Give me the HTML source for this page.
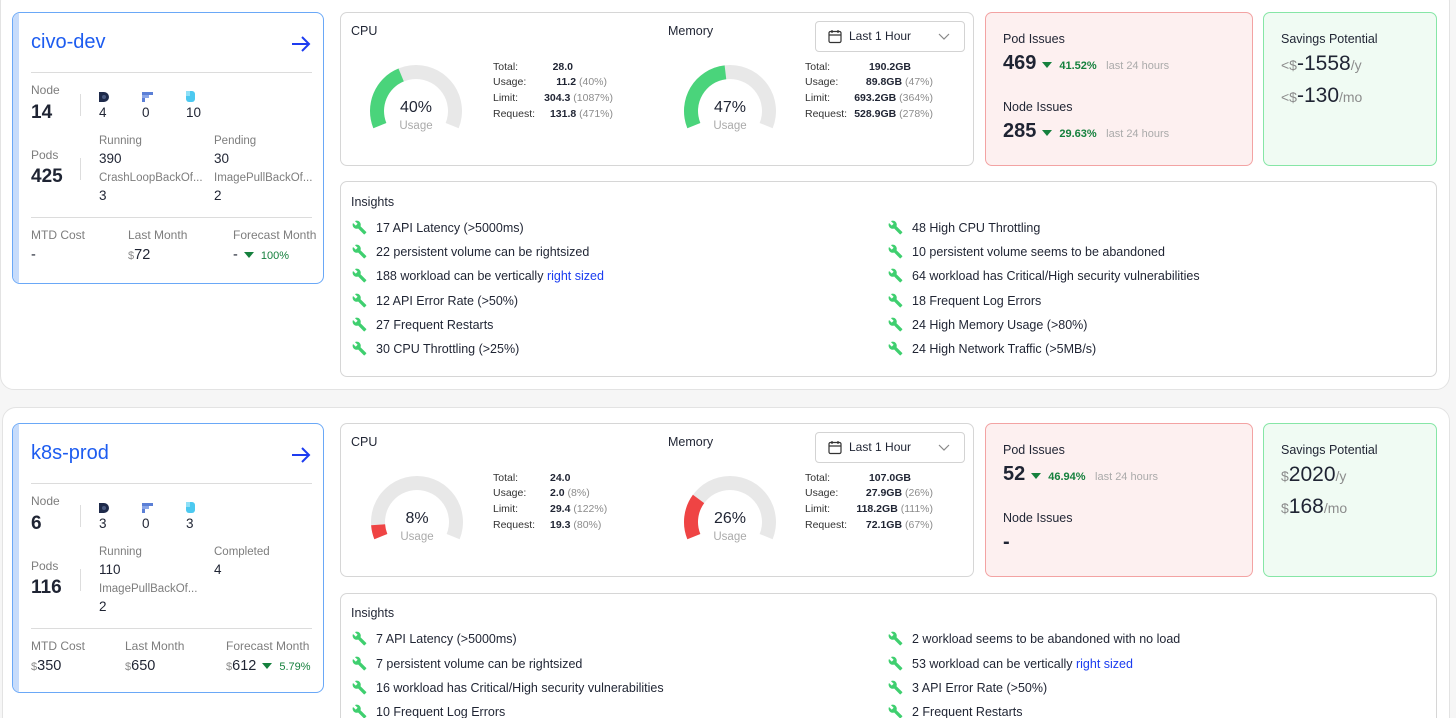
<!DOCTYPE html>
<html style="width:1456px;height:718px;overflow:hidden"><head><meta charset="utf-8">
<style>
*{box-sizing:border-box;margin:0;padding:0}
body{width:1456px;height:718px;overflow:hidden;background:#f6f6f6;font-family:"Liberation Sans",Arial,sans-serif;color:#1f2433;position:relative}
#wrap{position:absolute;left:0;top:0;width:1456px;height:718px;overflow:hidden}
.abs{position:absolute}
.sec{position:absolute;background:#fff;border:1px solid #e3e3e3;border-radius:14px}
.card{position:absolute;border:1px solid #d6d6d6;border-radius:7px;background:#fff}
.t{position:absolute;white-space:nowrap;line-height:20px}
.g{color:#8c8c8c}
.lbl{font-size:12px;color:#7d7d7d}
.big{font-size:19px;font-weight:bold;color:#1f2433}
.val{font-size:13.5px}
.green{color:#15803d}
</style></head><body>
<div id="wrap">
<div id="root"></div>
<svg id="gsvg" class="abs" style="left:0;top:0" width="1456" height="718"></svg>
</div>
<script>
// ---- gauge data ----
const gaugeLabels = ["cpu-1","memory-1","cpu-2","memory-2"];
const gaugeValues = [40, 47, 8, 26];
const gaugeColors = ["#4ad47b","#4ad47b","#ef4444","#ef4444"];

const root = document.getElementById('root');
let html = '';
function t(x, yc, text, cls, style, name, inter){
  return `<div class="t ${cls||''}" style="left:${x}px;top:${yc-10}px;${style||''}">${text}</div>`;
}
function tr(xr, yc, text, style, name){
  return `<div class="t" style="left:${xr-300}px;width:300px;text-align:right;top:${yc-10}px;${style||''}">${text}</div>`;
}
const wrench = `<svg width="15" height="15" viewBox="0 0 24 24"><path fill="#3fcf6f" d="M22.7 19l-9.1-9.1c.9-2.3.4-5-1.5-6.9-2-2-5-2.4-7.4-1.3L9 6 6 9 1.6 4.7C.4 7.1.9 10.1 2.9 12.1c1.9 1.9 4.6 2.4 6.9 1.5l9.1 9.1c.4.4 1 .4 1.4 0l2.3-2.3c.5-.4.5-1.1.1-1.4z"/></svg>`;
const tri = `<span style="display:inline-block;width:0;height:0;border-left:5px solid transparent;border-right:5px solid transparent;border-top:6px solid #15803d;vertical-align:middle;margin:0 7px 0 6px"></span>`;

const sections = [
 {dy:0, name:'civo-dev', node:'14', counts:['4','0','10'], pods:'425',
  statuses:[['Running','390'],['Pending','30'],['CrashLoopBackOf...','3'],['ImagePullBackOf...','2']],
  costs:[[31,'MTD Cost','-'],[128,'Last Month','<span class="g" style="font-size:11px">$</span>72'],[233,'Forecast Month','-'+tri+'<span class="green" style="font-size:11px">100%</span>']],
  cpu:[['Total:','28.0','',573],['Usage:','11.2','(40%)',607],['Limit:','304.3','(1087%)',613],['Request:','131.8','(471%)',613]], cpuLeft:false,
  mem:[['Total:','190.2GB','',911],['Usage:','89.8GB','(47%)',933],['Limit:','693.2GB','(364%)',933],['Request:','528.9GB','(278%)',933]],
  pod:['469','41.52%'], nodeI:['285','29.63%'], sav:['<span class="g" style="font-size:14px">&lt;$</span>-1558','<span class="g" style="font-size:14px">&lt;$</span>-130'],
  left:['17 API Latency (&gt;5000ms)','22 persistent volume can be rightsized','188 workload can be vertically <span style="color:#1a3cf0">right sized</span>','12 API Error Rate (&gt;50%)','27 Frequent Restarts','30 CPU Throttling (&gt;25%)'],
  right:['48 High CPU Throttling','10 persistent volume seems to be abandoned','64 workload has Critical/High security vulnerabilities','18 Frequent Log Errors','24 High Memory Usage (&gt;80%)','24 High Network Traffic (&gt;5MB/s)'],
  ins:[228,252,276,301,325,349], insTop:181, insH:196, cardH:272},
 {dy:411, name:'k8s-prod', node:'6', counts:['3','0','3'], pods:'116',
  statuses:[['Running','110'],['Completed','4'],['ImagePullBackOf...','2']],
  costs:[[31,'MTD Cost','<span class="g" style="font-size:11px">$</span>350'],[125,'Last Month','<span class="g" style="font-size:11px">$</span>650'],[226,'Forecast Month','<span class="g" style="font-size:11px">$</span>612'+tri+'<span class="green" style="font-size:11px">5.79%</span>']],
  cpu:[['Total:','24.0','',550],['Usage:','2.0','(8%)',550],['Limit:','29.4','(122%)',550],['Request:','19.3','(80%)',550]], cpuLeft:true,
  mem:[['Total:','107.0GB','',911],['Usage:','27.9GB','(26%)',933],['Limit:','118.2GB','(111%)',933],['Request:','72.1GB','(67%)',933]],
  pod:['52','46.94%'], nodeI:null, sav:['<span class="g" style="font-size:14px">$</span>2020','<span class="g" style="font-size:14px">$</span>168'],
  left:['7 API Latency (&gt;5000ms)','7 persistent volume can be rightsized','16 workload has Critical/High security vulnerabilities','10 Frequent Log Errors'],
  right:['2 workload seems to be abandoned with no load','53 workload can be vertically <span style="color:#1a3cf0">right sized</span>','3 API Error Rate (&gt;50%)','2 Frequent Restarts'],
  ins:[228,253,277,301], insTop:182, insH:140, cardH:270}
];

html += `<div class="sec" style="left:0;top:-12px;width:1450px;height:402px"></div>`;
html += `<div class="sec" style="left:2px;top:407px;width:1448px;height:330px"></div>`;

sections.forEach((s,si)=>{
  const d=s.dy;
  html += `<div class="card" style="left:12px;top:${12+d}px;width:312px;height:${s.cardH}px;border:1.5px solid #6aa8f7;border-radius:8px;overflow:hidden"><div class="abs" style="left:0;top:0;width:6px;height:100%;background:#c7dcfb"></div></div>`;
  html += t(31,42+d,s.name,'','font-size:20px;color:#1d5cf0','cluster-name',true);
  html += `<div class="abs" style="left:290px;top:${34+d}px"><svg width="22" height="20" viewBox="0 0 22 20"><path d="M2 10H19M12 3l7 7-7 7" stroke="#1d3cf0" stroke-width="2" fill="none"/></svg></div>`;
  html += `<div class="abs" style="left:31px;top:${72+d}px;width:281px;height:1px;background:#dcdcdc"></div>`;
  html += `<div class="abs" style="left:31px;top:${217+d}px;width:281px;height:1px;background:#dcdcdc"></div>`;
  html += t(31,90+d,'Node','lbl','','node-label');
  html += t(31,113+d,s.node,'big','','node-count');
  html += `<div class="abs" style="left:80px;top:${94+d}px;width:1px;height:22px;background:#ddd"></div>`;
  const icons=[`<svg width="10" height="10"><path d="M0 0h5a5 5 0 0 1 0 10H0z" fill="#1e2a4a"/><circle cx="5" cy="5" r="2" fill="#4a5a80"/></svg>`,
   `<svg width="11" height="10"><rect x="0" y="0" width="11" height="3" fill="#5b7fd6"/><rect x="0" y="3" width="7" height="3" fill="#8aa6e8"/><rect x="0" y="6" width="3" height="4" fill="#5b7fd6"/></svg>`,
   `<svg width="9" height="11"><rect x="0" y="0" width="9" height="11" rx="3" fill="#4cc9f0"/><rect x="0" y="0" width="4" height="5" fill="#8fe0f7"/></svg>`];
  [99,142,186].forEach((x,i)=>{
    html += `<div class="abs" style="left:${x}px;top:${89+d}px">${icons[i]}</div>`;
    html += t(x,113+d,s.counts[i],'val','','node-type-count');
  });
  html += t(31,155+d,'Pods','lbl','','pods-label');
  html += t(31,177+d,s.pods,'big','','pods-count');
  html += `<div class="abs" style="left:80px;top:${158+d}px;width:1px;height:22px;background:#ddd"></div>`;
  s.statuses.forEach((st,i)=>{
    const x = i%2===0?99:214, r=Math.floor(i/2);
    html += t(x,141+r*37+d,st[0],'lbl','font-size:11.5px','pod-status-label');
    html += t(x,159+r*37+d,st[1],'val','','pod-status-count');
  });
  s.costs.forEach(c=>{
    html += t(c[0],235+d,c[1],'lbl','','cost-label');
    html += t(c[0],255+d,c[2],'val','font-size:14.5px','cost-value');
  });
  html += `<div class="card" style="left:340px;top:${12+d}px;width:634px;height:154px"></div>`;
  html += t(351,31+d,'CPU','','font-size:12.5px','cpu-title');
  html += t(668,31+d,'Memory','','font-size:12.5px','memory-title');
  html += `<div class="abs" style="left:815px;top:${21+d}px;width:150px;height:31px;border:1px solid #d3d3d3;border-radius:4px">
    <svg class="abs" style="left:12px;top:7px" width="14" height="15"><rect x="1" y="2.5" width="12" height="11" rx="1.5" fill="none" stroke="#333" stroke-width="1.2"/><path d="M1 6h12M4 1v3M10 1v3" stroke="#333" stroke-width="1.2"/></svg>
    <div class="t" style="left:33px;top:4px;font-size:12px">Last 1 Hour</div>
    <svg class="abs" style="left:122px;top:11px" width="12" height="8"><path d="M1 1l5 5 5-5" stroke="#888" fill="none" stroke-width="1.2"/></svg></div>`;
  const rowsY=[67,82,98,114];
  [[s.cpu,493,s.cpuLeft],[s.mem,805,false]].forEach(([rows,lx,leftAl])=>{
    rows.forEach((r,i)=>{
      html += t(lx,rowsY[i]+d,r[0],'','font-size:10.5px;color:#333','stat-label');
      const txt=`<b style="font-weight:bold;color:#1f2433">${r[1]}</b>${r[2]?' <span class="g">'+r[2]+'</span>':''}`;
      html += leftAl ? t(r[3],rowsY[i]+d,txt,'','font-size:10.5px','stat-value') : tr(r[3],rowsY[i]+d,txt,'font-size:10.5px','stat-value');
    });
  });
  html += `<div class="card" style="left:985px;top:${12+d}px;width:268px;height:154px;background:#fdf0f0;border-color:#f3a3a3"></div>`;
  html += t(1003,39+d,'Pod Issues','','font-size:12.5px','pod-issues-title');
  html += t(1003,63+d,`<span style="font-size:20px;font-weight:bold">${s.pod[0]}</span>${tri}<span class="green" style="font-size:11px;font-weight:bold">${s.pod[1]}</span> <span style="font-size:11px;margin-left:5px;color:#aaa">last 24 hours</span>`,'','','pod-issues-value');
  html += t(1003,107+d,'Node Issues','','font-size:12.5px','node-issues-title');
  if(s.nodeI) html += t(1003,131+d,`<span style="font-size:20px;font-weight:bold">${s.nodeI[0]}</span>${tri}<span class="green" style="font-size:11px;font-weight:bold">${s.nodeI[1]}</span> <span style="font-size:11px;margin-left:5px;color:#aaa">last 24 hours</span>`,'','','node-issues-value');
  else html += t(1003,131+d,'<span style="font-size:20px;font-weight:bold">-</span>','','','node-issues-value');
  html += `<div class="card" style="left:1263px;top:${12+d}px;width:174px;height:154px;background:#f0fbf3;border-color:#86e6a6"></div>`;
  html += t(1281,39+d,'Savings Potential','','font-size:12.5px','savings-title');
  html += t(1281,64+d,`${s.sav[0]}<span class="g" style="font-size:14px">/y</span>`,'','font-size:21px','savings-yearly');
  html += t(1281,96+d,`${s.sav[1]}<span class="g" style="font-size:14px">/mo</span>`,'','font-size:21px','savings-monthly');
  html += `<div class="card" style="left:340px;top:${s.insTop+d}px;width:1097px;height:${s.insH}px"></div>`;
  html += t(351,202+d,'Insights','','font-size:12.5px','insights-title');
  [[s.left,352],[s.right,888]].forEach(([items,x])=>{
    items.forEach((it,i)=>{
      const y=s.ins[i]+d;
      html += `<div class="abs" style="left:${x}px;top:${y-8}px">${wrench}</div>`;
      html += t(x+24,y,it,'','font-size:12.5px','insight-item',true);
    });
  });
});
root.innerHTML = html;

// ---- gauges ----
const gaugeCenters = [[416,111],[730,111],[417,522],[730,522]];
const svg = document.getElementById('gsvg');
const NS='http://www.w3.org/2000/svg';
const START=-112, SWEEP=224, RO=46, RI=32;
function pt(cx,cy,r,a){const rad=a*Math.PI/180;return [cx+r*Math.sin(rad), cy-r*Math.cos(rad)];}
function sector(cx,cy,a0,a1){
  const large=(a1-a0)>180?1:0;
  const p1=pt(cx,cy,RO,a0),p2=pt(cx,cy,RO,a1),p3=pt(cx,cy,RI,a1),p4=pt(cx,cy,RI,a0);
  return `M${p1} A${RO} ${RO} 0 ${large} 1 ${p2} L${p3} A${RI} ${RI} 0 ${large} 0 ${p4}Z`;
}
gaugeValues.forEach((v,i)=>{
  const [cx,cy]=gaugeCenters[i];
  const bg=document.createElementNS(NS,'path');
  bg.setAttribute('d',sector(cx,cy,START,START+SWEEP));
  bg.setAttribute('fill','#e8e8e8');
  
  
  svg.appendChild(bg);
  const fg=document.createElementNS(NS,'path');
  fg.setAttribute('d',sector(cx,cy,START,START+SWEEP*v/100));
  fg.setAttribute('fill',gaugeColors[i]);
  
  
  svg.appendChild(fg);
  const tx=document.createElementNS(NS,'text');
  tx.setAttribute('x',cx);tx.setAttribute('y',cy+1);tx.setAttribute('text-anchor','middle');
  tx.setAttribute('font-size','16');tx.setAttribute('fill','#1f2433');tx.setAttribute('font-family','Liberation Sans, sans-serif');
  tx.textContent=v+'%';
  
  
  svg.appendChild(tx);
  const ux=document.createElementNS(NS,'text');
  ux.setAttribute('x',cx);ux.setAttribute('y',cy+18);ux.setAttribute('text-anchor','middle');
  ux.setAttribute('font-size','11.5');ux.setAttribute('fill','#aaa');ux.setAttribute('font-family','Liberation Sans, sans-serif');
  ux.textContent='Usage';
  
  
  svg.appendChild(ux);
});
</script>
</body></html>
